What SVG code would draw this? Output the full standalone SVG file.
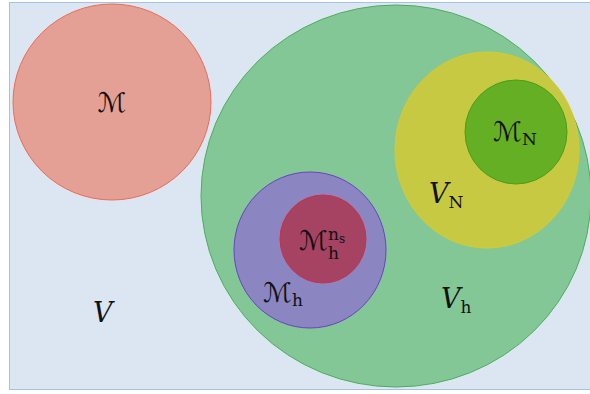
<svg xmlns="http://www.w3.org/2000/svg" width="590" height="394" viewBox="0 0 590 394">
<style>
.lbl{font-family:"DejaVu Serif","Liberation Serif",serif;fill:#111;}
.m{font-family:"DejaVu Sans",sans-serif;font-size:27px;}
.v{font-size:27px;font-style:italic;}
.sub{font-family:"DejaVu Serif","Liberation Serif",serif;font-size:17px;font-style:normal;}
</style>
<rect x="9.5" y="2.5" width="590" height="387" fill="#dce6f2" stroke="#a4c2e4" stroke-width="1"/>
<g id="M"><ellipse cx="112" cy="102" rx="99" ry="98" fill="#e5a096" stroke="#ec6a55" stroke-width="1"/>
<text class="lbl m" x="112" y="112" text-anchor="middle">ℳ</text></g>
<g id="Vh"><ellipse cx="396" cy="196" rx="195" ry="191" fill="#84c797" stroke="#4cae5c" stroke-width="1"/>
<text class="lbl v" x="441" y="308">V<tspan class="sub" dy="5">h</tspan></text></g>
<g id="VN"><ellipse cx="487" cy="150" rx="92" ry="98" fill="#c8c943" stroke="#d4cc30" stroke-width="1"/>
<text class="lbl v" x="429" y="203">V<tspan class="sub" dy="5">N</tspan></text></g>
<g id="MN"><ellipse cx="516" cy="132" rx="51" ry="52" fill="#64af24" stroke="#4c9e1a" stroke-width="1"/>
<text class="lbl m" x="493" y="141">ℳ<tspan class="sub" dy="4">N</tspan></text></g>
<g id="Mh"><ellipse cx="310" cy="250" rx="76" ry="78" fill="#8b86c2" stroke="#6a3fc8" stroke-width="1"/>
<text class="lbl m" x="263" y="302">ℳ<tspan class="sub" dy="4">h</tspan></text></g>
<g id="Mhns"><ellipse cx="323" cy="239" rx="43" ry="44" fill="#a64262" stroke="#c93048" stroke-width="1"/>
<text class="lbl m" x="299" y="250">ℳ</text>
<text class="lbl sub" x="328" y="240">n<tspan style="font-size:12px" dy="3">s</tspan></text>
<text class="lbl sub" x="328" y="259">h</text></g>
<g id="V"><text class="lbl v" x="93" y="322">V</text></g>
<g id="connectors"></g>
</svg>
